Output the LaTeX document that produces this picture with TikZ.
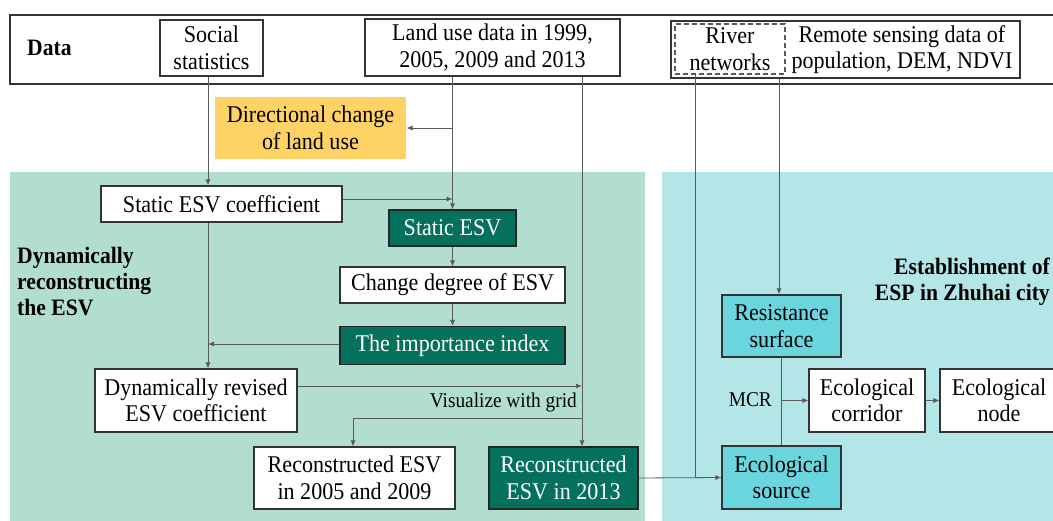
\documentclass[tikz,border=0pt]{standalone}
\usepackage{fontspec}
\setmainfont[FakeStretch=0.92]{Liberation Serif}
\usetikzlibrary{arrows.meta}
\definecolor{lgreen}{HTML}{B2DED0}
\definecolor{lcyan}{HTML}{B4E6E8}
\definecolor{dgreen}{HTML}{05705C}
\definecolor{cyanbox}{HTML}{6BD5DE}
\definecolor{ybox}{HTML}{FFD266}
\definecolor{bordercol}{HTML}{333333}
\definecolor{linecol}{HTML}{5A5A5A}
\tikzset{
  base/.style={draw=bordercol, line width=1.1pt, inner sep=0pt, align=center,
    font=\fontsize{24}{26.5}\selectfont, anchor=center},
  wbox/.style={base, fill=white},
  gbox/.style={base, fill=dgreen, text=white, draw=black!85},
  cbox/.style={base, fill=cyanbox},
  ybx/.style={base, draw=none, fill=ybox},
  conn/.style={draw=linecol, line width=0.8pt},
  arr/.style={conn, -{Latex[length=6pt,width=5pt]}},
  blabel/.style={font=\fontsize{23.5}{26}\selectfont\bfseries, inner sep=0pt},
  slabel/.style={font=\fontsize{21}{24}\selectfont, inner sep=0pt}
}
\begin{document}
\begin{tikzpicture}[x=1pt,y=-1pt]
\useasboundingbox (0,0) rectangle (1053,521);
% panels
\fill[lgreen] (10,172) rectangle (645,521);
\fill[lcyan] (662,172) rectangle (1060,521);
% data frame
\draw[bordercol, line width=1.8pt] (10,15) rectangle (1062,84);
\node[blabel, anchor=west] (data) at (27,48) {Data};
% column coordinates
\coordinate (c1) at (208,0);
\coordinate (c2) at (452.5,0);
\coordinate (c3) at (582,0);
\coordinate (c5) at (695,0);
\coordinate (c6) at (779,0);
% data boxes
\node[wbox, minimum width=103pt, minimum height=56pt] (social) at (211.5,48) {Social\\statistics};
\node[wbox, minimum width=255pt, minimum height=57pt] (landuse) at (492.5,47.5) {Land use data in 1999,\\2005, 2009 and 2013};
\node[wbox, minimum width=349pt, minimum height=57pt] (rsbox) at (845.5,49.5) {};
\node[base, draw=none, fill=none] (rstext) at (902,49.5) {Remote sensing data of\\population, DEM, NDVI};
\node[base, dashed, draw=black!65, line width=1.1pt, dash pattern=on 5pt off 3pt, minimum width=110pt, minimum height=50pt] (river) at (730,49) {River\\networks};
% yellow
\node[ybx, minimum width=191pt, minimum height=62pt] (yellow) at (310.5,128) {Directional change\\of land use};
% left panel
\node[blabel, anchor=west, align=left] (dynlab) at (17,282) {Dynamically\\reconstructing\\the ESV};
\node[wbox, minimum width=241pt, minimum height=36pt] (sec) at (221.5,204) {Static ESV coefficient};
\node[gbox, minimum width=127pt, minimum height=36pt] (sesv) at (452.5,228) {Static ESV};
\node[wbox, minimum width=225pt, minimum height=36pt] (cdeg) at (452.5,285) {Change degree of ESV};
\node[gbox, minimum width=225pt, minimum height=38pt] (imp) at (452.5,345.5) {The importance index};
\node[wbox, minimum width=202pt, minimum height=63pt] (drev) at (196,400.5) {Dynamically revised\\ESV coefficient};
\node[wbox, minimum width=201pt, minimum height=62pt] (r0509) at (354.5,478) {Reconstructed ESV\\in 2005 and 2009};
\node[gbox, minimum width=149pt, minimum height=62pt] (r13) at (563.5,478) {Reconstructed\\ESV in 2013};
\node[slabel, anchor=east] (vis) at (577,402) {Visualize with grid};
% right panel
\node[blabel, anchor=east, align=right] (esplab) at (1050,282) {Establishment of\\ESP in Zhuhai city};
\node[cbox, minimum width=119pt, minimum height=62pt] (resist) at (781.5,326) {Resistance\\surface};
\node[cbox, minimum width=119pt, minimum height=63pt] (esrc) at (781.5,477.5) {Ecological\\source};
\node[wbox, minimum width=116pt, minimum height=63pt] (corr) at (867,400.5) {Ecological\\corridor};
\node[wbox, minimum width=118pt, minimum height=63pt] (enode) at (999,400.5) {Ecological\\node};
\node[slabel, anchor=east] (mcr) at (772,400) {MCR};
% connectors
\draw[arr] (social.south -| c1) -- (sec.north -| c1);
\draw[conn] (landuse.south -| c2) -- (yellow.east -| c2);
\draw[arr] (yellow.east -| c2) -- (sesv.north);
\draw[arr] (yellow.east -| c2) -- (yellow.east);
\draw[arr] ([yshift=5pt]sec.east) -- ([yshift=5pt]sec.east -| c2);
\draw[arr] (sesv) -- (cdeg);
\draw[arr] (cdeg) -- (imp);
\draw[arr] ([yshift=1.5pt]imp.west) -- ([yshift=1.5pt]imp.west -| c1);
\draw[arr] (sec.south -| c1) -- (drev.north -| c1);
\draw[arr] ([yshift=14.5pt]drev.east) -- ([yshift=14.5pt]drev.east -| c3);
\draw[arr] (landuse.south -| c3) -- (r13.north -| c3);
\coordinate (vg) at (582,418);
\draw[arr] (vg) -| ([xshift=-1.5pt]r0509.north);
\draw[conn] (river.south -| c5) -- (esrc.west -| c5);
\draw[arr] (r13.east) -- (esrc.west);
\draw[arr] (rsbox.south -| c6) -- (resist.north -| c6);
\draw[conn] (resist.south) -- (esrc.north);
\draw[arr] (resist.south |- corr.west) -- (corr.west);
\draw[arr] (corr.east) -- (enode.west);
\end{tikzpicture}
\end{document}
